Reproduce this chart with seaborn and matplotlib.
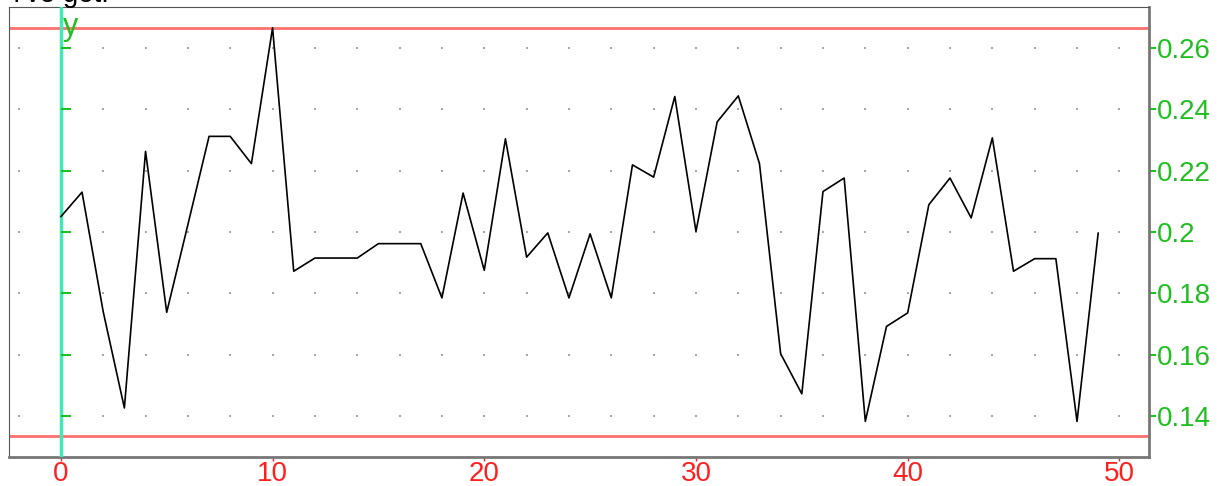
import numpy as np
import pandas as pd
import matplotlib
matplotlib.use("Agg")
import matplotlib.pyplot as plt
import seaborn as sns

# values
x_vals = list(range(50))
y_vals = [0.205, 0.213, 0.174, 0.1426, 0.2263, 0.1738, 0.2024, 0.2312, 0.2312, 0.2223,
          0.2666, 0.1872, 0.1915, 0.1915, 0.1915, 0.1962, 0.1962, 0.1962, 0.1785, 0.2127,
          0.1875, 0.2304, 0.1918, 0.1997, 0.1785, 0.1994, 0.1785, 0.2219, 0.2179, 0.2442,
          0.2002, 0.2359, 0.2444, 0.2223, 0.1603, 0.1472, 0.2132, 0.2176, 0.1382, 0.1692,
          0.1736, 0.2089, 0.2176, 0.2046, 0.2307, 0.1872, 0.1913, 0.1913, 0.1382, 0.1997]
bound_lines = [0.2667, 0.1333]
x_ticks = [0, 10, 20, 30, 40, 50]
y_ticks = [0.14, 0.16, 0.18, 0.2, 0.22, 0.24, 0.26]

GREEN = "#1fbf1f"
RED = "#ff1f1f"

sns.set_theme(style="white")
plt.rcParams["font.family"] = ["Liberation Sans", "DejaVu Sans"]

fig = plt.figure(figsize=(12.25, 4.86), dpi=100)
ax = fig.add_axes([9 / 1225, 1 - 457 / 486, 1140 / 1225, 450 / 486])

df = pd.DataFrame({"x": x_vals, "y": y_vals})

# dotted grid: a dot at every tick crossing
gx, gy = np.meshgrid(np.arange(-2, 51, 2), y_ticks)
keep = gx != 0
ax.scatter(gx[keep], gy[keep], s=4, color="#a8a8a8", marker="s", linewidths=0, zorder=1)

for yb in bound_lines:
    ax.axhline(yb, color="#ff7070", linewidth=2, zorder=2)

ax.axvline(0, color="#40e8b8", linewidth=2.5, zorder=3)
ax.scatter([0.25] * len(y_ticks), y_ticks, marker="_", s=60, color=GREEN, linewidths=1.5, zorder=4)
ax.text(0.12, 0.2643, "y", color=GREEN, fontsize=22, va="baseline", ha="left", zorder=5)

sns.lineplot(data=df, x="x", y="y", color="black", linewidth=1.2, ax=ax, zorder=5)

ax.set_xlim(-2.45, 51.4)
ax.set_ylim(0.1266, 0.2734)
ax.set_xticks(x_ticks)
ax.set_xticklabels([str(v) for v in x_ticks])
ax.set_yticks(y_ticks)
ax.set_yticklabels([f"{v:g}" for v in y_ticks])
ax.yaxis.tick_right()
ax.set_xlabel("")
ax.set_ylabel("")

ax.tick_params(axis="x", colors=RED, labelsize=20, length=3, width=1, direction="out",
               bottom=True, pad=0)
ax.tick_params(axis="y", colors=GREEN, labelsize=20, length=5, width=1.5, direction="out",
               right=True, pad=1)
for lab in ax.get_xticklabels():
    lab.set_color(RED)
for lab in ax.get_yticklabels():
    lab.set_color(GREEN)

for side in ["left", "top"]:
    ax.spines[side].set_color("#555555")
    ax.spines[side].set_linewidth(0.8)
for side in ["bottom", "right"]:
    ax.spines[side].set_color("#777777")
    ax.spines[side].set_linewidth(2)

# header text cut off by the screenshot edge
fig.text(13 / 1225, 1 - 2 / 486, "I've got:", fontsize=20, color="black", va="baseline", ha="left")

fig.savefig("out.png", dpi=100)
plt.close(fig)
